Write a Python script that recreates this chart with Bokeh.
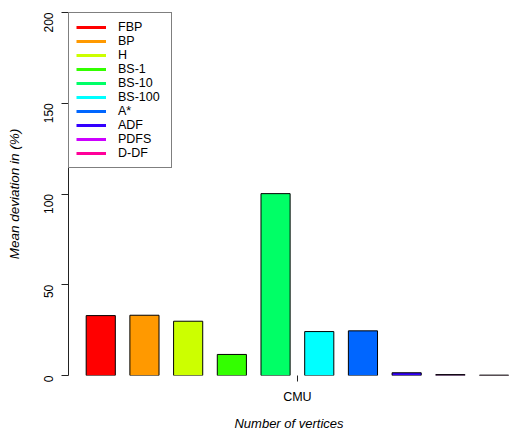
import math
from bokeh.plotting import figure
from bokeh.models import (ColumnDataSource, Legend, LegendItem, FixedTicker, Range1d)
from bokeh.embed import file_html
from bokeh.resources import INLINE

# ---- data ----
methods = ["FBP", "BP", "H", "BS-1", "BS-10", "BS-100", "A*", "ADF", "PDFS", "D-DF"]
deviation = [33.0, 33.2, 29.9, 11.6, 100.2, 24.2, 24.6, 1.5, 0.5, 0.2]
group = ["CMU"]
y_ticks = [0, 50, 100, 150, 200]
colors = ["#FF0000", "#FF9900", "#CCFF00", "#33FF00", "#00FF66",
          "#00FFFF", "#0066FF", "#3300FF", "#CC00FF", "#FF0099"]

# R-style barplot layout: width 1, space 0.5
xs = [1.0 + 1.5 * i for i in range(len(methods))]
center = (xs[0] - 0.5 + xs[-1] + 0.5) / 2.0

FONT = "Liberation Sans"
NAN = float("nan")

p = figure(width=509, height=437, output_backend="svg", toolbar_location=None,
           x_range=Range1d(-0.107, 15.03), y_range=Range1d(0, 200),
           min_border_top=12, min_border_left=68, min_border_right=0, min_border_bottom=62)
p.outline_line_color = None
p.xgrid.visible = False
p.ygrid.visible = False
p.background_fill_color = "white"
p.border_fill_color = "white"

src = ColumnDataSource(dict(x=xs, top=deviation, color=colors, name=methods))
p.vbar(x="x", top="top", bottom=0, width=1.0, fill_color="color",
       line_color="black", line_width=1, source=src)

# legend (line swatches)
items = []
for m, c in zip(methods, colors):
    r = p.line(x=[NAN], y=[NAN], line_color=c, line_width=3)
    items.append(LegendItem(label=m, renderers=[r]))
legend = Legend(items=items, location="top_left", margin=0, padding=7, spacing=0,
                glyph_width=30, glyph_height=14, label_height=14, label_standoff=12,
                label_width=46,
                label_text_font=FONT, label_text_font_size="12.5px",
                label_text_color="black",
                border_line_color="black", border_line_width=1,
                background_fill_color="white", background_fill_alpha=1.0)
p.add_layout(legend)

# y axis
ya = p.yaxis[0]
ya.ticker = FixedTicker(ticks=y_ticks)
ya.major_label_orientation = math.pi / 2
ya.major_tick_out = 7
ya.major_tick_in = 0
ya.minor_tick_out = 0
ya.minor_tick_in = 0
ya.major_label_standoff = 13
ya.major_label_text_font = FONT
ya.major_label_text_font_size = "12px"
ya.major_label_text_color = "black"
ya.axis_line_color = "#222222"
ya.major_tick_line_color = "#222222"
ya.axis_label = "Mean deviation in (%)"
ya.axis_label_text_font = FONT
ya.axis_label_text_font_style = "italic"
ya.axis_label_text_font_size = "13.5px"
ya.axis_label_text_color = "black"
ya.axis_label_standoff = 15

# x axis
xa = p.xaxis[0]
xa.ticker = FixedTicker(ticks=[center])
xa.major_label_overrides = {center: group[0]}
xa.axis_line_color = None
xa.major_tick_out = 6
xa.major_tick_in = 0
xa.minor_tick_out = 0
xa.minor_tick_in = 0
xa.major_tick_line_color = "#222222"
xa.major_label_standoff = 8
xa.major_label_text_font = FONT
xa.major_label_text_font_size = "12.5px"
xa.major_label_text_color = "black"
xa.axis_label = "Number of vertices"
xa.axis_label_text_font = FONT
xa.axis_label_text_font_style = "italic"
xa.axis_label_text_font_size = "13px"
xa.axis_label_text_color = "black"
xa.axis_label_standoff = 9

open("out.html", "w").write(file_html(p, INLINE))
